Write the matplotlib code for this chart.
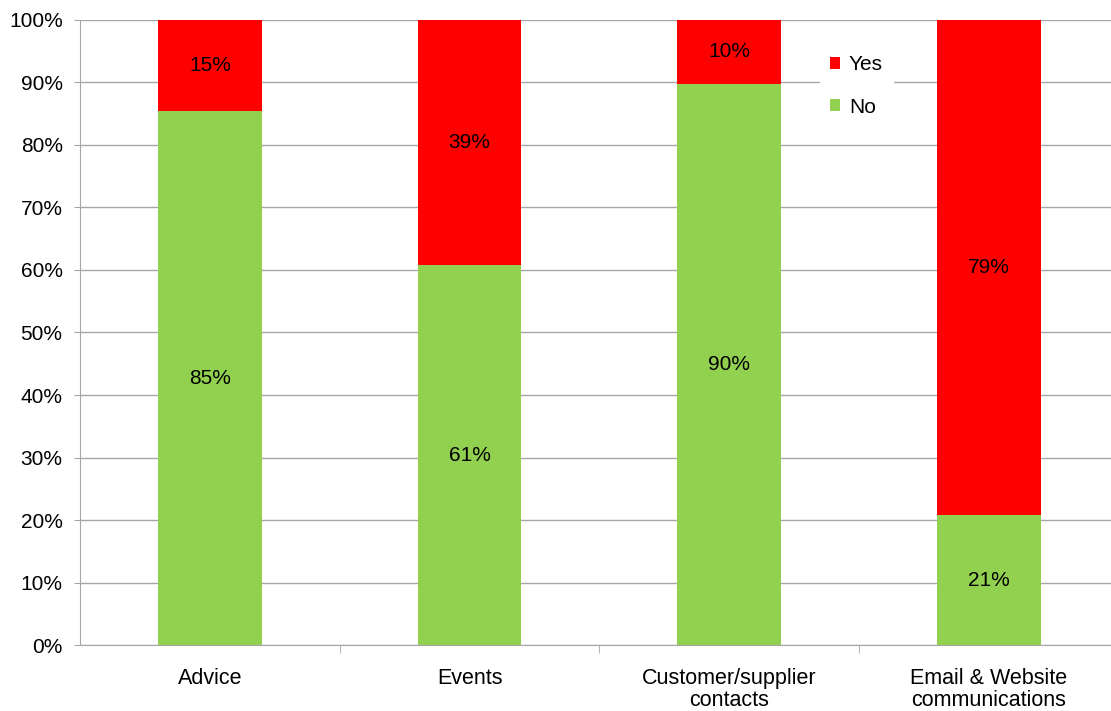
import matplotlib.pyplot as plt
from matplotlib.ticker import FuncFormatter, FixedLocator
import numpy as np

plt.rcParams['font.family'] = ['Liberation Sans', 'DejaVu Sans']

categories = ["Advice", "Events", "Customer/supplier\ncontacts", "Email & Website\ncommunications"]
no_vals = [85.4, 60.8, 89.8, 20.8]
yes_vals = [14.6, 39.2, 10.2, 79.2]
no_labels = ["85%", "61%", "90%", "21%"]
yes_labels = ["15%", "39%", "10%", "79%"]

green = "#92d050"
red = "#ff0000"
grid_col = "#a6a6a6"

fig = plt.figure(figsize=(11.11, 7.11), dpi=100)
ax = fig.add_axes([0.072, 0.0928, 0.935, 0.8791])

x = np.arange(len(categories))
ax.bar(x, no_vals, width=0.4, color=green, label="No", zorder=2)
ax.bar(x, yes_vals, bottom=no_vals, width=0.4, color=red, label="Yes", zorder=2)

for i in range(len(x)):
    ax.text(x[i], no_vals[i] / 2, no_labels[i], ha="center", va="center", fontsize=15, zorder=3)
    ax.text(x[i], no_vals[i] + yes_vals[i] / 2, yes_labels[i], ha="center", va="center",
            fontsize=15, zorder=3)

ax.set_xlim(-0.5, 3.5)
ax.set_ylim(0, 100)
ax.set_yticks(np.arange(0, 101, 10))
ax.yaxis.set_major_formatter(FuncFormatter(lambda v, p: f"{int(v)}%"))
ax.yaxis.grid(True, color=grid_col, linewidth=1, zorder=0)
ax.set_axisbelow(True)

# category labels centred, tick marks between categories
ax.set_xticks(x)
ax.set_xticklabels(categories, fontsize=15.5, linespacing=1.05)
ax.tick_params(axis="x", length=0, pad=16.5)
ax.xaxis.set_minor_locator(FixedLocator([0.5, 1.5, 2.5]))
ax.tick_params(axis="x", which="minor", length=6, color=grid_col)
ax.tick_params(axis="y", labelsize=15, length=4, color=grid_col, pad=8.5)

for s in ["top", "right"]:
    ax.spines[s].set_visible(False)
for s in ["left", "bottom"]:
    ax.spines[s].set_color(grid_col)

handles, labels = ax.get_legend_handles_labels()
leg = ax.legend(handles[::-1], labels[::-1], loc="upper left", bbox_to_anchor=(0.702, 0.977),
                frameon=True, fancybox=False, edgecolor="white", framealpha=1,
                fontsize=15, handlelength=0.5, handleheight=0.5, handletextpad=0.4,
                labelspacing=1.12, borderpad=0.5)

fig.savefig("out.png", dpi=100)
